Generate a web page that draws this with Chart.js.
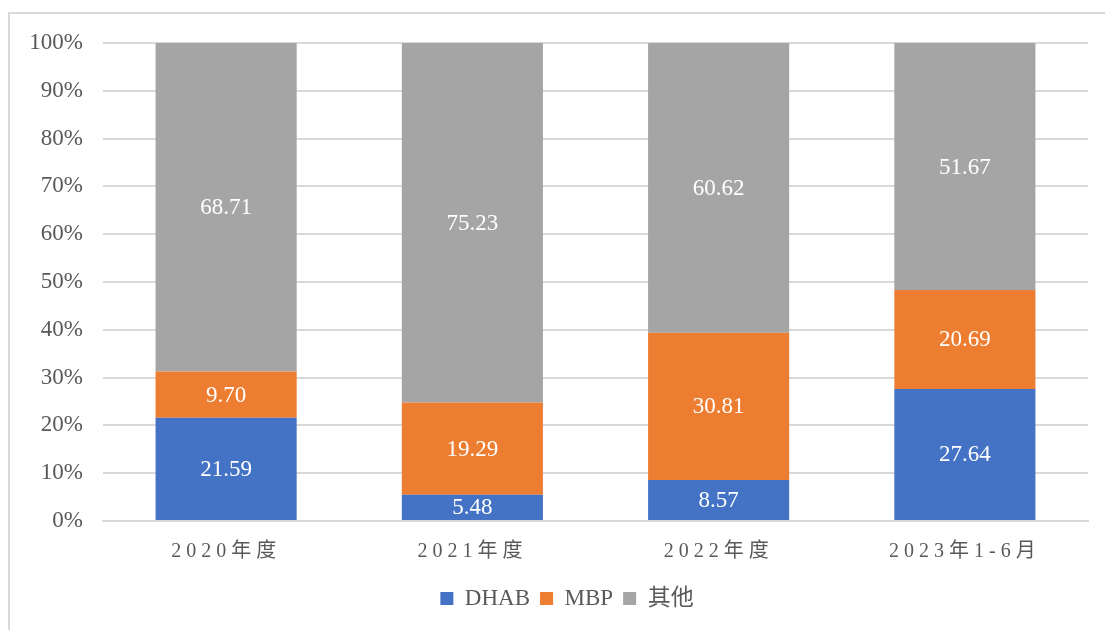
<!DOCTYPE html>
<html>
<head>
<meta charset="utf-8">
<script src="https://cdn.jsdelivr.net/npm/chart.js@4.4.0/dist/chart.umd.min.js"></script>
<style>
    html, body { margin: 0; padding: 0; background: #fff; }
    #wrap { position: relative; width: 1105px; height: 630px; overflow: hidden; }
    #frame { position: absolute; left: 8px; top: 12px; width: 1200px; height: 700px;
             border-top: 2px solid #d9d9d9; border-left: 2px solid #d9d9d9; }
    canvas { position: absolute; left: 0; top: 0; }
</style>
</head>
<body>
<div id="wrap">
    <div id="frame"></div>
    <canvas id="chart" width="1105" height="630"></canvas>
</div>
<script>
const categories = ["2020年度", "2021年度", "2022年度", "2023年1-6月"];
const dhab = [21.59, 5.48, 8.57, 27.64];
const mbp = [9.70, 19.29, 30.81, 20.69];
const others = [68.71, 75.23, 60.62, 51.67];
const yTicks = [0, 10, 20, 30, 40, 50, 60, 70, 80, 90, 100];

const serif = '"Liberation Serif", "Noto Sans CJK SC", serif';
const textGray = "#595959";

// white numbers in the middle of every bar piece
const barLabels = {
    id: "barLabels",
    afterDatasetsDraw(chart) {
        const ctx = chart.ctx;
        ctx.save();
        ctx.fillStyle = "#ffffff";
        ctx.font = "23px " + serif;
        ctx.textAlign = "center";
        ctx.textBaseline = "middle";
        chart.data.datasets.forEach((ds, i) => {
            chart.getDatasetMeta(i).data.forEach((bar, j) => {
                const mid = (bar.y + bar.base) / 2;
                ctx.fillText(ds.data[j].toFixed(2), bar.x, mid + 1);
            });
        });
        ctx.restore();
    }
};

// spaced-out category labels, legend centred under the plot area
const tweaks = {
    id: "tweaks",
    afterLayout(chart) {
        if (chart.legend) chart.legend.left += 46;
        const sx = chart.scales.x;
        if (sx._spaced) return;
        const orig = sx.drawLabels.bind(sx);
        sx.drawLabels = function (area) {
            const ctx = chart.ctx;
            ctx.save();
            ctx.letterSpacing = "5px";
            orig(area);
            ctx.restore();
        };
        sx._spaced = true;
    }
};

new Chart(document.getElementById("chart"), {
    type: "bar",
    data: {
        labels: categories,
        datasets: [
            { label: "DHAB", data: dhab, backgroundColor: "#4472c4" },
            { label: "MBP", data: mbp, backgroundColor: "#ed7d31" },
            { label: "其他", data: others, backgroundColor: "#a5a5a5" }
        ]
    },
    options: {
        responsive: false,
        animation: false,
        devicePixelRatio: 1,
        layout: { padding: { left: 0, right: 17, top: 43, bottom: 10 } },
        datasets: {
            bar: { categoryPercentage: 1, barPercentage: 0.573 }
        },
        plugins: {
            tooltip: { enabled: false },
            legend: {
                position: "bottom",
                labels: {
                    color: textGray,
                    font: { family: serif, size: 23 },
                    boxWidth: 13,
                    boxHeight: 13,
                    padding: 10
                }
            }
        },
        scales: {
            x: {
                stacked: true,
                grid: { display: false },
                border: { color: "#d9d9d9", width: 2 },
                ticks: {
                    color: textGray,
                    font: { family: serif, size: 20 },
                    padding: 11
                },
                afterFit: (s) => { s.height = 56; }
            },
            y: {
                stacked: true,
                min: 0,
                max: 100,
                border: { display: false },
                grid: { color: "#d9d9d9", lineWidth: 2, drawTicks: false },
                afterBuildTicks: (s) => { s.ticks = yTicks.map(v => ({ value: v })); },
                ticks: {
                    color: textGray,
                    font: { family: serif, size: 23 },
                    padding: 20,
                    callback: (v) => v + "%"
                },
                afterFit: (s) => { s.width = 103; }
            }
        }
    },
    plugins: [barLabels, tweaks]
});
</script>
</body>
</html>
